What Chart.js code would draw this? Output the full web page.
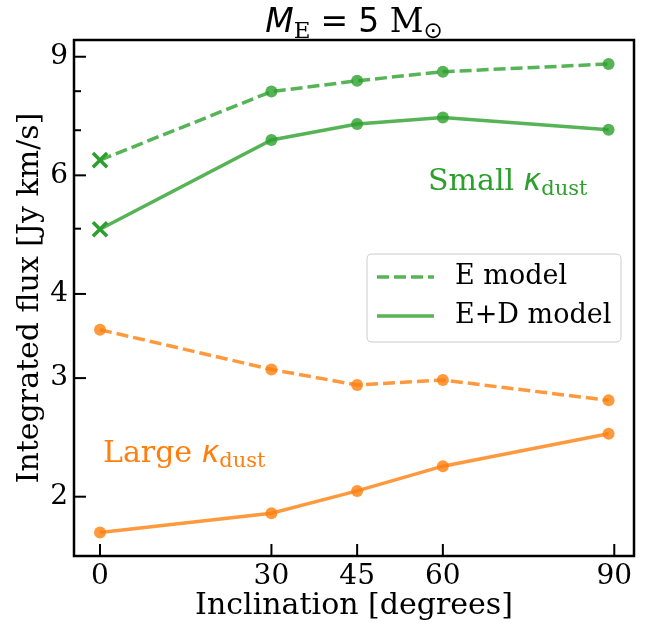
<!DOCTYPE html>
<html><head><meta charset="utf-8">
<script src="https://cdn.jsdelivr.net/npm/chart.js@4/dist/chart.umd.min.js"></script>
<style>html,body{margin:0;padding:0;background:#fff}#wrap{width:651px;height:633px}</style>
</head><body><div id="wrap"><canvas id="c" width="651" height="633"></canvas></div>
<script>
// ---- data ----
const inclinations = [0, 30, 45, 60, 89];
const smallE  = [6.32, 7.99, 8.29, 8.55, 8.78];
const smallED = [4.99, 6.77, 7.15, 7.31, 7.01];
const largeE  = [3.54, 3.09, 2.93, 2.98, 2.78];
const largeED = [1.77, 1.89, 2.04, 2.22, 2.48];
const xTicks = [0, 30, 45, 60, 90];
const yTicks = [2, 3, 4, 5, 6, 7, 8, 9];
const yLabeled = [2, 3, 4, 6, 9];
const legendLabels = ['E model', 'E+D model'];

const GREEN = '#2ca02c', GREEN_A = 'rgba(44,160,44,0.8)';
const ORANGE = '#ff7f0e', ORANGE_A = 'rgba(255,127,14,0.8)';
const SERIF = '"DejaVu Serif", serif';
const SANS = '"DejaVu Sans", sans-serif';
const TICK_FS = 28, LABEL_FS = 30, LEG_FS = 27, ANN_FS = 30;

function pts(arr){ return arr.map((v,i)=>({x: inclinations[i], y: v})); }
function ds(label, data, col, colA, dashed, firstCross){
  return {
    label, data: pts(data), borderColor: colA, borderWidth: 3.5,
    borderDash: dashed ? [12,5] : [],
    pointStyle: data.map((_,i)=> (i===0 && firstCross) ? 'crossRot' : 'circle'),
    pointRadius: data.map((_,i)=> (i===0 && firstCross) ? 10 : 6),
    pointBackgroundColor: colA,
    pointBorderColor: data.map((_,i)=> (i===0 && firstCross) ? col : 'rgba(0,0,0,0)'),
    pointBorderWidth: data.map((_,i)=> (i===0 && firstCross) ? 3.5 : 0),
    tension: 0, fill: false
  };
}

function drawRich(ctx, segs, x, y, align){
  let w = 0;
  segs.forEach(s=>{ ctx.font = s.font; s.w = ctx.measureText(s.text).width; w += s.w + (s.gap||0); });
  let cx = align === 'center' ? x - w/2 : x;
  ctx.textBaseline = 'alphabetic'; ctx.textAlign = 'left';
  segs.forEach(s=>{ ctx.font = s.font; ctx.fillStyle = s.color; ctx.fillText(s.text, cx, y + (s.dy||0)); cx += s.w + (s.gap||0); });
}

const overlay = {
  id: 'overlay',
  afterDraw(chart){
    const ctx = chart.ctx, a = chart.chartArea;
    const xs = chart.scales.x, ys = chart.scales.y;
    ctx.save();
    // ticks (inward)
    ctx.strokeStyle = '#000'; ctx.lineWidth = 2;
    xTicks.forEach(t=>{ const px = xs.getPixelForValue(t); ctx.beginPath(); ctx.moveTo(px, a.bottom); ctx.lineTo(px, a.bottom-12); ctx.stroke(); });
    yTicks.forEach(t=>{ const py = ys.getPixelForValue(t); const L = yLabeled.includes(t) ? 12 : 7; ctx.beginPath(); ctx.moveTo(a.left, py); ctx.lineTo(a.left+L, py); ctx.stroke(); });
    // frame
    ctx.lineWidth = 2.5; ctx.strokeRect(a.left, a.top, a.right-a.left, a.bottom-a.top);
    // title
    drawRich(ctx, [
      {text:'M', font:`italic 33px ${SANS}`, color:'#000'},
      {text:'E', font:`23px ${SERIF}`, color:'#000', dy:6, gap:10},
      {text:'=', font:`33px ${SANS}`, color:'#000', gap:10},
      {text:'5 ', font:`33px ${SANS}`, color:'#000'},
      {text:'M', font:`33px ${SERIF}`, color:'#000'},
      {text:'\u2299', font:`23px ${SANS}`, color:'#000', dy:6}
    ], (a.left+a.right)/2, 32, 'center');
    // annotations
    drawRich(ctx, [
      {text:'Small ', font:`${ANN_FS}px ${SERIF}`, color:GREEN},
      {text:'\u03BA', font:`italic ${ANN_FS}px ${SANS}`, color:GREEN},
      {text:'dust', font:`21px ${SERIF}`, color:GREEN, dy:5}
    ], 428, 190, 'left');
    drawRich(ctx, [
      {text:'Large ', font:`${ANN_FS}px ${SERIF}`, color:ORANGE},
      {text:'\u03BA', font:`italic ${ANN_FS}px ${SANS}`, color:ORANGE},
      {text:'dust', font:`21px ${SERIF}`, color:ORANGE, dy:5}
    ], 103, 462, 'left');
    // legend
    const lx = 367, ly = 254, lw = 254, lh = 88, r = 5;
    ctx.beginPath();
    ctx.moveTo(lx+r, ly); ctx.lineTo(lx+lw-r, ly); ctx.quadraticCurveTo(lx+lw, ly, lx+lw, ly+r);
    ctx.lineTo(lx+lw, ly+lh-r); ctx.quadraticCurveTo(lx+lw, ly+lh, lx+lw-r, ly+lh);
    ctx.lineTo(lx+r, ly+lh); ctx.quadraticCurveTo(lx, ly+lh, lx, ly+lh-r);
    ctx.lineTo(lx, ly+r); ctx.quadraticCurveTo(lx, ly, lx+r, ly); ctx.closePath();
    ctx.fillStyle = 'rgba(255,255,255,0.8)'; ctx.fill();
    ctx.strokeStyle = '#cccccc'; ctx.lineWidth = 1; ctx.stroke();
    const src = [chart.data.datasets[0], chart.data.datasets[1]];
    [277, 316].forEach((yy, i)=>{
      const d = src[i];
      ctx.strokeStyle = d.borderColor; ctx.lineWidth = d.borderWidth; ctx.setLineDash(d.borderDash);
      ctx.beginPath(); ctx.moveTo(377, yy); ctx.lineTo(434, yy); ctx.stroke();
      ctx.setLineDash([]);
      ctx.fillStyle = '#000'; ctx.font = `${LEG_FS}px ${SERIF}`; ctx.textBaseline = 'middle'; ctx.textAlign = 'left';
      ctx.fillText(legendLabels[i], 455, yy);
    });
    ctx.restore();
  }
};

new Chart(document.getElementById('c'), {
  type: 'line',
  data: { datasets: [
    ds('E model', smallE, GREEN, GREEN_A, true, true),
    ds('E+D model', smallED, GREEN, GREEN_A, false, true),
    ds('Large E', largeE, ORANGE, ORANGE_A, true, false),
    ds('Large E+D', largeED, ORANGE, ORANGE_A, false, false)
  ]},
  options: {
    responsive: false, animation: false, devicePixelRatio: 1,
    layout: { padding: { top: 40, right: 17, left: 0, bottom: 0 } },
    plugins: { legend: { display: false }, tooltip: { enabled: false }, title: { display: false } },
    scales: {
      x: {
        type: 'linear', min: -4.55, max: 93.45, bounds: 'data',
        afterBuildTicks: s => { s.ticks = xTicks.map(v=>({value:v})); },
        afterFit: s => { s.height = 77; },
        ticks: { color: '#000', font: { family: SERIF, size: TICK_FS }, padding: 4, maxRotation: 0, callback: v => String(v) },
        grid: { display: false, drawTicks: false }, border: { display: false },
        title: { display: true, text: 'Inclination [degrees]', color: '#000', font: { family: SERIF, size: LABEL_FS }, padding: { top: 0, bottom: 9 } }
      },
      y: {
        type: 'logarithmic', min: 1.633, max: 9.53, bounds: 'data',
        afterBuildTicks: s => { s.ticks = yTicks.map(v=>({value:v})); },
        afterFit: s => { s.width = 74; },
        ticks: { color: '#000', font: { family: SERIF, size: TICK_FS }, padding: 6, autoSkip: false, callback: v => yLabeled.includes(v) ? String(v) : '' },
        grid: { display: false, drawTicks: false }, border: { display: false },
        title: { display: true, text: 'Integrated flux [Jy km/s]', color: '#000', font: { family: SERIF, size: LABEL_FS }, padding: { top: 12, bottom: 0 } }
      }
    }
  },
  plugins: [overlay]
});
</script></body></html>
